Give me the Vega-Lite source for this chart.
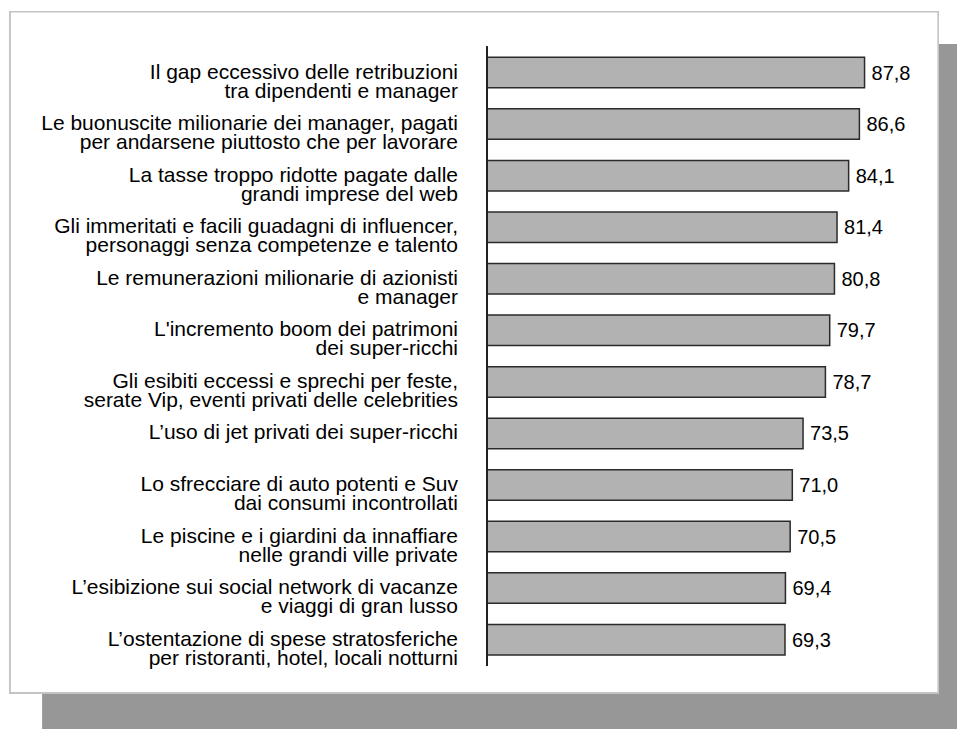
{
  "$schema": "https://vega.github.io/schema/vega-lite/v6.json",
  "width": 957,
  "height": 729,
  "autosize": {"type": "none"},
  "padding": 0,
  "background": "#ffffff",
  "config": {
    "view": {"stroke": null},
    "locale": {"number": {"decimal": ",", "thousands": ".", "grouping": [3], "currency": ["", " €"]}},
    "text": {"font": "Liberation Sans", "fontSize": 21, "color": "#000000"}
  },
  "data": {
    "values": [
      {"voce": "Il gap eccessivo delle retribuzioni\ntra dipendenti e manager", "valore": 87.8, "ordine": 1},
      {"voce": "Le buonuscite milionarie dei manager, pagati\nper andarsene piuttosto che per lavorare", "valore": 86.6, "ordine": 2},
      {"voce": "La tasse troppo ridotte pagate dalle\ngrandi imprese del web", "valore": 84.1, "ordine": 3},
      {"voce": "Gli immeritati e facili guadagni di influencer,\npersonaggi senza competenze e talento", "valore": 81.4, "ordine": 4},
      {"voce": "Le remunerazioni milionarie di azionisti\ne manager", "valore": 80.8, "ordine": 5},
      {"voce": "L'incremento boom dei patrimoni\ndei super-ricchi", "valore": 79.7, "ordine": 6},
      {"voce": "Gli esibiti eccessi e sprechi per feste,\nserate Vip, eventi privati delle celebrities", "valore": 78.7, "ordine": 7},
      {"voce": "L’uso di jet privati dei super-ricchi", "valore": 73.5, "ordine": 8},
      {"voce": "Lo sfrecciare di auto potenti e Suv\ndai consumi incontrollati", "valore": 71.0, "ordine": 9},
      {"voce": "Le piscine e i giardini da innaffiare\nnelle grandi ville private", "valore": 70.5, "ordine": 10},
      {"voce": "L’esibizione sui social network di vacanze\ne viaggi di gran lusso", "valore": 69.4, "ordine": 11},
      {"voce": "L’ostentazione di spese stratosferiche\nper ristoranti, hotel, locali notturni", "valore": 69.3, "ordine": 12}
    ]
  },
  "layer": [
    {
      "mark": {"type": "rect", "fill": "#979797", "clip": false},
      "encoding": {
        "x": {"datum": -103.3, "type": "quantitative", "scale": {"domain": [-113.26, 109.3]}, "axis": null},
        "x2": {"datum": 111},
        "y": {"datum": 0.45, "type": "quantitative", "scale": {"domain": [-0.3105, 13.636], "reverse": true}, "axis": null},
        "y2": {"datum": 14}
      }
    },
    {
      "mark": {"type": "rect", "fill": "#ffffff", "stroke": "#c4c4c4", "strokeWidth": 1.5},
      "encoding": {
        "x": {"datum": -110.9, "type": "quantitative", "scale": {"domain": [-113.26, 109.3]}, "axis": null},
        "x2": {"datum": 104.9},
        "y": {"datum": -0.18, "type": "quantitative", "scale": {"domain": [-0.3105, 13.636], "reverse": true}, "axis": null},
        "y2": {"datum": 13.03}
      }
    },
    {
      "mark": {"type": "bar", "orient": "horizontal", "size": 30.5, "fill": "#b2b2b2", "stroke": "#2b2b2b", "strokeWidth": 1.5},
      "encoding": {
        "x": {"field": "valore", "type": "quantitative", "scale": {"domain": [-113.26, 109.3]}, "axis": null},
        "y": {"field": "ordine", "type": "quantitative", "scale": {"domain": [-0.3105, 13.636], "reverse": true}, "axis": null}
      }
    },
    {
      "mark": {"type": "rule", "stroke": "#222222", "strokeWidth": 1.5},
      "encoding": {
        "x": {"datum": 0, "type": "quantitative", "scale": {"domain": [-113.26, 109.3]}, "axis": null},
        "y": {"datum": 0.5, "type": "quantitative", "scale": {"domain": [-0.3105, 13.636], "reverse": true}, "axis": null},
        "y2": {"datum": 12.5}
      }
    },
    {
      "mark": {"type": "text", "align": "right", "baseline": "middle", "dx": -29, "lineBreak": "\n", "lineHeight": 19},
      "encoding": {
        "x": {"datum": 0, "type": "quantitative", "scale": {"domain": [-113.26, 109.3]}, "axis": null},
        "y": {"field": "ordine", "type": "quantitative", "scale": {"domain": [-0.3105, 13.636], "reverse": true}, "axis": null},
        "text": {"field": "voce", "type": "nominal"}
      }
    },
    {
      "mark": {"type": "text", "align": "left", "baseline": "middle", "dx": 7, "dy": 1, "fontSize": 20},
      "encoding": {
        "x": {"field": "valore", "type": "quantitative", "scale": {"domain": [-113.26, 109.3]}, "axis": null},
        "y": {"field": "ordine", "type": "quantitative", "scale": {"domain": [-0.3105, 13.636], "reverse": true}, "axis": null},
        "text": {"field": "valore", "type": "quantitative", "format": ".1f"}
      }
    }
  ]
}
